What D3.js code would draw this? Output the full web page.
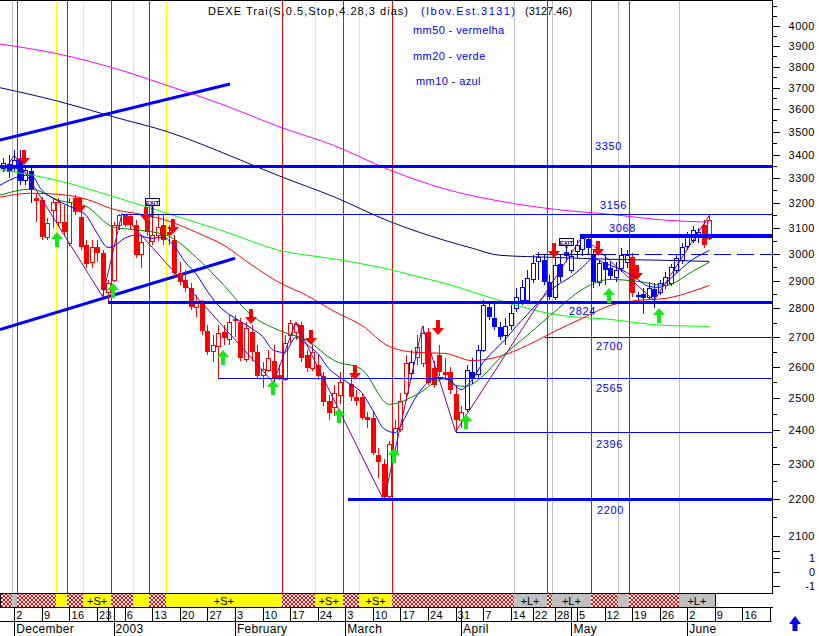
<!DOCTYPE html>
<html><head><meta charset="utf-8">
<script src="https://cdn.jsdelivr.net/npm/d3@7"></script>
<style>
body{margin:0;background:#fff;}
svg{display:block;}
text{font-family:"Liberation Sans",Arial,sans-serif;}
</style></head>
<body><svg id="c" width="819" height="636"></svg>
<script>
// ---------------- DATA ----------------
// trading-day index 0 = 28 Nov 2002 ; 128 = 06 Jun 2003 (null = no session)
const open  = [3342,3359,3342,3381,3292,3330,3218,3210,3063,3169,3122,3122,3040,3218,3141,3032,2967,3024,3002,2857,2901,3110,3149,3145,3110,2998,3130,3047,3071,3110,3082,3051,2926,2901,2872,2803,2814,2720,2652,2668,2716,2692,2761,2751,2624,2716,2648,2572,2588,2621,2575,2559,2706,2716,2740,2638,2595,2605,2569,2492,2470,2508,null,2546,2502,2502,2442,2439,2325,2301,2207,2331,2403,2514,2578,2631,2611,2716,2595,2638,2582,2582,2514,2430,2464,2585,2575,2655,2803,2765,2733,2706,2740,2800,2828,2828,2904,2971,2975,2894,2839,2963,3006,2937,3009,3017,3055,2994,2894,2967,2945,2912,2945,2967,2986,2846,2850,2839,2868,2857,2882,2890,2937,2975,3028,3051,3067,3110,3059];
const high  = [3385,3398,3419,3419,3355,3355,3234,3222,3138,3218,3218,3189,3218,3230,3161,3051,3051,3051,3013,2901,3122,3156,3156,3156,3130,3071,3150,3141,3149,3149,3110,3071,2967,2937,2890,2846,2828,2740,2706,2740,2740,2775,2775,2765,2751,2740,2672,2615,2655,2672,2605,2706,2758,2751,2751,2655,2672,2638,2582,2508,2540,2582,null,2572,2524,2517,2455,2455,2348,2316,2369,2430,2517,2638,2655,2706,2737,2730,2621,2672,2628,2601,2540,2476,2605,2628,2672,2828,2821,2821,2751,2765,2810,2872,2901,2937,2994,3006,2994,2919,2982,2994,3021,3013,3051,3068,3068,3013,2975,2994,2967,2967,3021,3013,3002,2860,2872,2894,2890,2901,2930,2963,2998,3040,3082,3106,3098,3130,3149];
const low   = [3325,3300,3325,3271,3271,3197,3122,3051,3051,3098,3102,3067,3028,3149,3013,2945,2945,2967,2842,2824,2894,3090,3102,3090,2982,2945,3067,3032,3047,3032,3032,2915,2882,2857,2793,2768,2706,2638,2615,2565,2672,2672,2702,2621,2615,2621,2562,2533,2582,2549,2556,2553,2679,2689,2615,2582,2588,2556,2476,2430,2445,2482,null,2492,2476,2430,2408,2325,2261,2196,2200,2310,2394,2492,2556,2605,2601,2540,2533,2572,2556,2514,2396,2406,2455,2546,2562,2648,2758,2723,2689,2672,2723,2786,2810,2814,2890,2901,2882,2828,2828,2894,2967,2926,2982,2990,3000,2872,2879,2882,2901,2894,2930,2945,2842,2828,2780,2828,2800,2846,2868,2879,2926,2960,3013,3040,3040,3021,3051];
const close = [3363,3325,3376,3288,3334,3250,3206,3063,3118,3201,3201,3082,3201,3161,3024,2963,3024,3002,2864,2890,3110,3149,3110,3110,2994,3044,3082,3071,3102,3051,3071,2926,2894,2872,2803,2817,2720,2648,2672,2713,2696,2751,2754,2631,2730,2648,2572,2592,2628,2562,2562,2679,2748,2744,2628,2595,2648,2569,2486,2452,2514,2550,null,2502,2492,2439,2433,2331,2307,2207,2357,2406,2489,2611,2615,2665,2713,2549,2543,2582,2575,2524,2430,2455,2588,2565,2655,2810,2768,2733,2699,2737,2782,2839,2875,2908,2963,2986,2894,2839,2956,2912,2990,2990,3032,3060,3020,2894,2963,2937,2915,2937,2994,2994,2853,2839,2835,2872,2839,2890,2912,2948,2982,3024,3071,3090,3082,3032,3127.46];
const candleColor = "bbbbbbrrrrrrrrrrrrrrrrrrrrrrrrrrrrrrrrrrrrrrrrrrrrrrrrrrrrrrrrrrrrrrrrrrrrbrrrrrrrrrbbbbbbbbbbbbbbbbbbbbbbbbbbbbbbrbbbbbbbbbbbb";

// moving averages (index, value)
const mm10Idx = [-0.6,3,5,7,9,12,15,17,19,20,22,24,27,29,31,33,35,37,39,41,43,45,47,49,51,53,55,57,59,61,63,65,67,69,71,72,73,75,77,79,81,83,85,87,89,91,93,95,97,99,101,103,105,107,109,111,113,115,117,119,121,123,125,127,128];
const mm10Val = [3271,3308,3313,3250,3218,3185,3149,3079,3024,3028,3059,3071,3059,3063,3028,2968,2923,2861,2810,2778,2754,2730,2702,2655,2648,2699,2675,2645,2595,2566,2543,2517,2461,2405,2393,2412,2445,2508,2550,2566,2556,2527,2559,2615,2655,2692,2737,2778,2821,2861,2890,2915,2949,2983,2964,2949,2930,2904,2879,2875,2908,2945,2979,3002,3013];
const mm20Idx = [-0.6,5,10,15,20,25,30,35,40,45,50,55,60,65,70,75,80,82,84,86,90,95,100,105,110,115,120,125,128];
const mm20Val = [3230,3255,3210,3185,3102,3090,3067,2986,2882,2775,2723,2689,2621,2592,2480,2511,2562,2540,2537,2556,2628,2706,2789,2868,2904,2897,2882,2934,2968];
const mm50Idx = [-0.6,5,10,15,20,25,30,35,40,45,50,55,60,65,70,75,80,85,90,95,100,105,110,115,120,125,128];
const mm50Val = [3222,3238,3234,3214,3173,3153,3126,3082,3032,2958,2893,2846,2789,2740,2668,2648,2645,2621,2635,2672,2720,2765,2810,2828,2835,2861,2882];
const maAIdx = [-0.6,10,20,30,40,50,60,70,75,80,90,100,110,120,128];
const maAVal = [3336,3290,3224,3155,3086,3013,2980,2941,2915,2890,2828,2778,2761,2740,2737];      // light green
const maBIdx = [-0.6,10,20,30,40,50,60,70,80,85,90,100,110,120,128];
const maBVal = [3700,3637,3566,3498,3406,3310,3223,3125,3051,3021,2994,2986,2979,2975,2971];      // navy
const maCIdx = [-0.6,10,20,30,40,50,60,70,80,90,100,110,120,128];
const maCVal = [3910,3861,3793,3708,3620,3522,3439,3335,3256,3206,3173,3153,3130,3122];           // magenta

// swing zig-zag
const zzIdx   = [0,2,18,21.5,49,53,69,76,82,105,118,128];
const zzPrice = [3325,3398,2842,3156,2549,2751,2196,2737,2396,3068,2828,3149];

// channel lines [idx1, price1, idx2, price2]
const channelUp  = [-0.6,3463,41.1,3717];
const channelLow = [-0.6,2726,42,2983];

// support / resistance levels
const levelPrice = [3350,3156,3068,3000,2824,2700,2565,2396,2200];
const levelStart = [-0.6,21.5,104.6,108,19,98.2,39,82,62.5];
const levelKind  = ["thick","thin","thick","dash","thick","thin","thin","thin","thick"];
const levelText  = ["3350","3156","3068","","2824","2700","2565","2396","2200"];

// signals
const sellIdx  = [4,14,26,31,45,56,64,79,100,108,115];
const sellTip  = [3355,3157,3122,3075,2744,2672,2559,2706,2982,2990,2901];
const buyIdx   = [10,20,40,49,61,71,84,110,119];
const buyTip   = [3082,2890,2655,2556,2470,2348,2451,2872,2800];
const exitIdx  = [27,102];
const exitPrice= [3192,3032];

// signal strip segments
const segStart = [-0.6,1.5,2.5,9.5,11.5,14.5,19.5,23.5,26.5,29.5,50.5,56.5,61.5,64.5,70.5,92.5,98.5,99.5,106.5,111.5,113.5,122.5];
const segEnd   = [1.5,2.5,9.5,11.5,14.5,19.5,23.5,26.5,29.5,50.5,56.5,61.5,64.5,70.5,92.5,98.5,99.5,106.5,111.5,113.5,122.5,129];
const segType  = ["h","g","h","y","h","y","h","y","h","y","h","y","h","y","h","g","h","g","h","g","h","g"];
const segLabel = ["","","","","","+S+","","","","+S+","","+S+","","+S+","","+L+","","+L+","","","","+L+"];

// x axis
const tickIdx    = [2,7,12,17,19,22,27,32,37,42,47,52,57,62,67,72,77,82,87,92,96,100,104,109,114,119,124,129,134,139];
const tickLabels = ["2","9","16","23","","6","13","20","27","3","10","17","24","3","10","17","24","31","7","14","22","28","5","12","19","26","2","9","16","23"];
const monthIdx    = [2,20,42,62,83,103,124];
const monthLabels = ["December","2003","February","March","April","May","June"];
// y axes
const priceTicks = [2100,2200,2300,2400,2500,2600,2700,2800,2900,3000,3100,3200,3300,3400,3500,3600,3700,3800,3900,4000];
const subTicks = [1,0,-1];

const titleParts = ["DEXE Trai(S,0.5,Stop,4.28,3 dias)","(Ibov.Est.3131)","(3127.46)"];
const legendText = ["mm50 - vermelha","mm20 - verde","mm10 - azul"];

// ---------------- LAYOUT ----------------
const L = {right:772.5, top:0.5, stripTop:593.5, stripBot:607.5, dateBot:621.5, bottom:636};
const labelDx = {"3350":595,"3156":600,"3068":609,"2824":569,"2700":596,"2565":596,"2396":596,"2200":597};
const labelDy = {"3350":-20,"3156":-9,"3068":-8,"2824":9,"2700":9,"2565":10,"2396":12,"2200":11};
const C = {red:"#ff0000",blue:"#0000ff",navy:"#000080",yellow:"#ffff00",gray:"#c0c0c0",lime:"#00ff00",dgreen:"#008000",mag:"#ff00ff",purple:"#800080",arrowG:"#19e619"};

const svg = d3.select("#c");
const x = d3.scaleLinear().domain([0,139]).range([3.3,770]);
const y = d3.scaleLog().domain([2100,4000]).range([536,26]);
const ySub = d3.scaleLinear().domain([-1,1]).range([585.7,558.3]);

const defs = svg.append("defs");
const pat = defs.append("pattern").attr("id","hatch").attr("patternUnits","userSpaceOnUse").attr("width",4).attr("height",4);
pat.append("rect").attr("width",4).attr("height",4).attr("fill","#fff");
pat.append("path").attr("d","M0,0L4,4M4,0L0,4M-1,3L1,5M3,-1L5,1").attr("stroke",C.red).attr("stroke-width",1);
defs.append("clipPath").attr("id","plotclip").append("rect").attr("x",0).attr("y",1).attr("width",772).attr("height",592);
defs.append("clipPath").attr("id","dateclip").append("rect").attr("x",0).attr("y",L.stripBot).attr("width",772).attr("height",30);

svg.append("rect").attr("width",819).attr("height",636).attr("fill","#fff");

const plot = svg.append("g").attr("clip-path","url(#plotclip)");
const px = v => Math.round(v)+0.5;

// vertical signal lines
const lineCol = {h:C.red,y:C.yellow,g:C.gray};
plot.append("g").attr("shape-rendering","crispEdges").selectAll("line").data(d3.range(1,segStart.length)).join("line")
  .attr("x1",i=>px(x(segStart[i]))).attr("x2",i=>px(x(segStart[i])))
  .attr("y1",1).attr("y2",L.stripTop).attr("stroke",i=>lineCol[segType[i]]).attr("stroke-width",1);

// channel lines
[channelUp,channelLow].forEach(c=>{
  plot.append("line").attr("x1",x(c[0])).attr("y1",y(c[1])).attr("x2",x(c[2])).attr("y2",y(c[3]))
    .attr("stroke",C.blue).attr("stroke-width",3);
});

// candles
const days = d3.range(open.length).filter(i=>open[i]!=null);
const cg = plot.append("g").attr("shape-rendering","crispEdges");
const col = i => candleColor[i]==="b"?C.blue:C.red;
cg.selectAll("line").data(days).join("line")
  .attr("x1",i=>px(x(i))).attr("x2",i=>px(x(i)))
  .attr("y1",i=>y(high[i])).attr("y2",i=>y(low[i])).attr("stroke",col);
cg.selectAll("rect").data(days).join("rect")
  .attr("x",i=>close[i]<open[i]?px(x(i))-2.5:px(x(i))-2)
  .attr("width",i=>close[i]<open[i]?5:4)
  .attr("y",i=>y(Math.max(open[i],close[i])))
  .attr("height",i=>Math.max(1,y(Math.min(open[i],close[i]))-y(Math.max(open[i],close[i]))))
  .attr("fill",i=>close[i]<open[i]?col(i):"#fff")
  .attr("stroke",i=>close[i]<open[i]?"none":col(i)).attr("stroke-width",1);

// moving averages
const mline = d3.line().x(d=>x(d[0])).y(d=>y(d[1])).curve(d3.curveMonotoneX);
const series = [[maCIdx,maCVal,C.mag],[maBIdx,maBVal,C.navy],[maAIdx,maAVal,C.lime],[mm50Idx,mm50Val,C.red],[mm20Idx,mm20Val,C.dgreen],[mm10Idx,mm10Val,C.blue]];
series.forEach(s=>{
  plot.append("path").attr("d",mline(s[0].map((v,k)=>[v,s[1][k]]))).attr("fill","none").attr("stroke",s[2]).attr("stroke-width",1);
});

// zigzag
plot.append("path").attr("d",d3.line().x(d=>x(d[0])).y(d=>y(d[1]))(zzIdx.map((v,k)=>[v,zzPrice[k]])))
  .attr("fill","none").attr("stroke",C.purple).attr("stroke-width",1);

// levels
levelPrice.forEach((p,k)=>{
  const yy = levelKind[k]==="thin"||levelKind[k]==="dash" ? px(y(p)) : Math.round(y(p));
  const ln = plot.append("line").attr("shape-rendering","crispEdges").attr("x1",Math.max(0,x(levelStart[k]))).attr("x2",L.right).attr("y1",yy).attr("y2",yy).attr("stroke",C.blue);
  if(levelKind[k]==="thick") ln.attr("stroke-width", p===3068?4:3);
  else if(levelKind[k]==="dash") ln.attr("stroke-width",1).attr("stroke-dasharray","17,6");
  else ln.attr("stroke-width",1);
  if(levelText[k]) svg.append("text").attr("x",labelDx[levelText[k]]).attr("y",y(p)+labelDy[levelText[k]]+4)
    .attr("fill",C.blue).attr("font-size",11).attr("letter-spacing",0.6).text(levelText[k]);
});
// short support under 3000
plot.append("line").attr("x1",x(96.5)).attr("x2",x(108)).attr("y1",px(y(3000))).attr("y2",px(y(3000))).attr("stroke",C.navy);

// arrows
const ag = plot.append("g");
sellIdx.forEach((d,k)=>{
  const cx=Math.round(x(d))-1, ty=Math.round(y(sellTip[k]));
  ag.append("path").attr("d",`M${cx-2},${ty-15}H${cx+2}V${ty-7}H${cx+6}L${cx},${ty}L${cx-6},${ty-7}H${cx-2}Z`).attr("fill",C.red);
});
buyIdx.forEach((d,k)=>{
  const cx=Math.round(x(d))-1, ty=Math.round(y(buyTip[k]));
  ag.append("path").attr("d",`M${cx-2},${ty+15}H${cx+2}V${ty+7}H${cx+6}L${cx},${ty}L${cx-6},${ty+7}H${cx-2}Z`).attr("fill",C.arrowG);
});
// exit boxes
exitIdx.forEach((d,k)=>{
  const cx=px(x(d)), yb=Math.round(y(exitPrice[k]))+0.5;
  ag.append("line").attr("x1",cx).attr("x2",cx).attr("y1",yb).attr("y2",y(high[d])).attr("stroke",C.navy).attr("stroke-width",2);
  ag.append("rect").attr("x",cx-7).attr("y",yb-7).attr("width",14).attr("height",7).attr("fill","#fff").attr("stroke",C.navy);
  ag.append("text").attr("x",cx).attr("y",yb-1).attr("text-anchor","middle").attr("font-size",6).attr("font-weight","bold").attr("fill",C.navy).text("EXIT");
});

// frame
svg.append("line").attr("x1",0).attr("x2",L.right).attr("y1",L.top).attr("y2",L.top).attr("stroke","#000");
svg.append("line").attr("x1",L.right).attr("x2",L.right).attr("y1",0).attr("y2",L.stripTop).attr("stroke","#000");

// right price axis
const ax = svg.append("g").attr("shape-rendering","crispEdges");
const minor = d3.range(2150,4101,50).filter(v=>!priceTicks.includes(v));
ax.selectAll("line.mj").data(priceTicks).join("line").attr("class","mj")
  .attr("x1",L.right).attr("x2",L.right+7).attr("y1",v=>px(y(v))).attr("y2",v=>px(y(v))).attr("stroke","#000");
ax.selectAll("line.mn").data(minor).join("line").attr("class","mn")
  .attr("x1",L.right).attr("x2",L.right+4).attr("y1",v=>px(y(v))).attr("y2",v=>px(y(v))).attr("stroke","#000");
ax.selectAll("text.pl").data(priceTicks).join("text").attr("class","pl")
  .attr("x",815).attr("y",v=>y(v)+4).attr("text-anchor","end").attr("font-size",11).attr("letter-spacing",0.5).text(v=>v);
ax.selectAll("line.sb").data(subTicks.concat([1.5])).join("line").attr("class","sb")
  .attr("x1",L.right).attr("x2",L.right+7).attr("y1",v=>px(ySub(v))).attr("y2",v=>px(ySub(v))).attr("stroke","#000");
ax.selectAll("text.sl").data(subTicks).join("text").attr("class","sl")
  .attr("x",815).attr("y",v=>ySub(v)+4).attr("text-anchor","end").attr("font-size",11).text(v=>v);

// signal strip
const st = svg.append("g").attr("shape-rendering","crispEdges");
const stripFill = {h:"url(#hatch)",y:C.yellow,g:C.gray};
st.selectAll("rect").data(d3.range(segStart.length)).join("rect")
  .attr("x",i=>Math.max(0,Math.round(x(segStart[i])))).attr("y",L.stripTop)
  .attr("width",i=>Math.round(x(segEnd[i]))-Math.max(0,Math.round(x(segStart[i])))).attr("height",L.stripBot-L.stripTop)
  .attr("fill",i=>stripFill[segType[i]]);
st.selectAll("text").data(d3.range(segStart.length).filter(i=>segLabel[i])).join("text")
  .attr("x",i=>(x(segStart[i])+x(segEnd[i]))/2).attr("y",L.stripBot-3).attr("text-anchor","middle")
  .attr("font-size",11).text(i=>segLabel[i]);
st.append("line").attr("x1",0).attr("x2",L.right).attr("y1",L.stripTop).attr("y2",L.stripTop).attr("stroke","#000");
st.append("line").attr("x1",0).attr("x2",L.right).attr("y1",L.stripBot).attr("y2",L.stripBot).attr("stroke","#000");
st.append("line").attr("x1",0.5).attr("x2",0.5).attr("y1",L.stripTop).attr("y2",L.stripBot).attr("stroke","#000");
st.append("line").attr("x1",px(x(129))).attr("x2",px(x(129))).attr("y1",L.stripTop).attr("y2",L.stripBot).attr("stroke","#000");

// date axis
const dg = svg.append("g").attr("clip-path","url(#dateclip)");
dg.append("line").attr("x1",0).attr("x2",L.right).attr("y1",L.dateBot).attr("y2",L.dateBot).attr("stroke","#000");
dg.selectAll("line.tk").data(tickIdx).join("line").attr("class","tk")
  .attr("x1",i=>px(x(i))).attr("x2",i=>px(x(i))).attr("y1",L.stripBot).attr("y2",L.dateBot).attr("stroke","#000");
dg.selectAll("text.tl").data(d3.range(tickIdx.length)).join("text").attr("class","tl")
  .attr("x",k=>x(tickIdx[k])+2).attr("y",L.dateBot-2.5).attr("font-size",11).attr("letter-spacing",0.3).text(k=>tickLabels[k]);
const mg = svg.append("g");
mg.selectAll("line").data(monthIdx).join("line")
  .attr("x1",i=>px(x(i))).attr("x2",i=>px(x(i))).attr("y1",L.stripBot).attr("y2",L.bottom).attr("stroke","#000");
mg.selectAll("text").data(d3.range(monthIdx.length)).join("text")
  .attr("x",k=>x(monthIdx[k])+2).attr("y",633).attr("font-size",12).attr("letter-spacing",0.3).text(k=>monthLabels[k]);

// title (three adjacent pieces, no overlap) + legend
const titleX = [208,421,525], titleW = [200,94,0], titleC = ["#000",C.blue,"#000"];
titleParts.forEach((t,k)=>{
  const tt = svg.append("text").attr("x",titleX[k]).attr("y",15).attr("font-size",11).attr("fill",titleC[k]).text(t);
  if(titleW[k]) tt.attr("textLength",titleW[k]).attr("lengthAdjust","spacing");
});
const legY = [34,60,85], legX=[413,413,416];
legendText.forEach((t,k)=>svg.append("text").attr("x",legX[k]).attr("y",legY[k]).attr("fill",C.blue).attr("font-size",11).attr("letter-spacing",0.4).text(t));

// navigation arrow icon
svg.append("path").attr("d","M795,616L801,624H797.5V631H792.5V624H789Z").attr("fill",C.blue);
</script>
</body></html>
